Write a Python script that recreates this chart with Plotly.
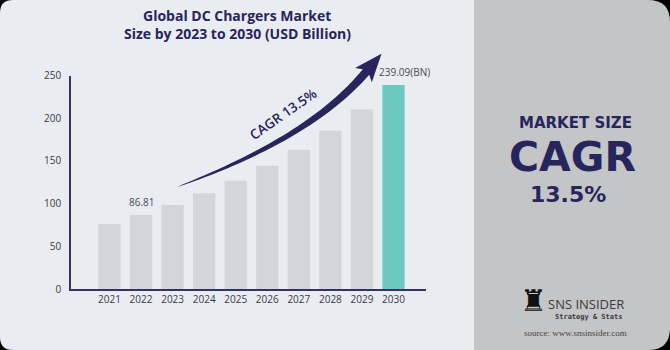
import numpy as np
import plotly.graph_objects as go

# ---- data ----
years = ["2021", "2022", "2023", "2024", "2025", "2026", "2027", "2028", "2029", "2030"]
market_size = [76.2, 86.81, 98.4, 112.1, 126.9, 144.5, 163.2, 185.5, 210.5, 239.09]
bar_colors = ["#D2D6DB"] * 9 + ["#6CC8C0"]
label_years = ["2022", "2030"]
label_texts = ["86.81", "239.09(BN)"]
y_ticks = [0, 50, 100, 150, 200, 250]

W, H = 670, 350
NAVY = "#27255C"


def px(x, y):
    return x / W, 1 - y / H


def path_from(points):
    pts = [px(x, y) for x, y in points]
    s = "M {:.5f},{:.5f} ".format(*pts[0])
    s += " ".join("L {:.5f},{:.5f}".format(a, b) for a, b in pts[1:])
    return s + " Z"


def rounded_rect(x0, y0, x1, y1, rl, rr):
    def P(x, y):
        a, b = px(x, y)
        return "{:.5f},{:.5f}".format(a, b)
    s = "M " + P(x0 + rl, y0)
    s += " L " + P(x1 - rr, y0)
    s += (" Q " + P(x1, y0) + " " + P(x1, y0 + rr)) if rr else (" L " + P(x1, y0))
    s += " L " + P(x1, y1 - rr)
    s += (" Q " + P(x1, y1) + " " + P(x1 - rr, y1)) if rr else (" L " + P(x1, y1))
    s += " L " + P(x0 + rl, y1)
    s += (" Q " + P(x0, y1) + " " + P(x0, y1 - rl)) if rl else (" L " + P(x0, y1))
    s += " L " + P(x0, y0 + rl)
    s += (" Q " + P(x0, y0) + " " + P(x0 + rl, y0)) if rl else (" L " + P(x0, y0))
    return s + " Z"


# ---- arrow (decoration) ----
P0 = np.array([177.0, 187.0]); P1 = np.array([250.0, 160.0])
P2 = np.array([322.0, 124.0]); P3 = np.array([366.0, 72.0])
ts = np.linspace(0, 1, 40)
upper, lower = [], []
for t in ts:
    c = (1 - t) ** 3 * P0 + 3 * (1 - t) ** 2 * t * P1 + 3 * (1 - t) * t ** 2 * P2 + t ** 3 * P3
    d = 3 * (1 - t) ** 2 * (P1 - P0) + 6 * (1 - t) * t * (P2 - P1) + 3 * t ** 2 * (P3 - P2)
    d = d / np.linalg.norm(d)
    n = np.array([-d[1], d[0]])
    w = 4.2 * t ** 0.7
    upper.append(c + n * w)
    lower.append(c - n * w)
dE = 3 * (P3 - P2); dE = dE / np.linalg.norm(dE)
nE = np.array([-dE[1], dE[0]])
tip = P3 + dE * 24
wing_a = P3 - dE * 4 + nE * 11
wing_b = P3 - dE * 4 - nE * 11
arrow_pts = upper + [wing_a, tip, wing_b] + lower[::-1]
arrow_path = path_from([(p[0], p[1]) for p in arrow_pts])

fig = go.Figure()
fig.add_trace(go.Bar(
    x=years, y=market_size, marker=dict(color=bar_colors, line=dict(width=0)),
    width=0.707, hoverinfo="skip",
))

shapes = [
    dict(type="path", xref="paper", yref="paper", layer="below",
         path=rounded_rect(0, 0, 480, 350, 13, 0), fillcolor="#E9ECF1", line=dict(width=0)),
    dict(type="path", xref="paper", yref="paper", layer="below",
         path=rounded_rect(474, 0, 670, 350, 0, 22), fillcolor="#C4C5C7", line=dict(width=0)),
    dict(type="path", xref="paper", yref="paper", layer="above",
         path=arrow_path, fillcolor=NAVY, line=dict(width=0)),
]

annotations = []
for yr, txt in zip(label_years, label_texts):
    idx = years.index(yr)
    v = market_size[idx]
    annotations.append(dict(x=idx, y=v, xref="x", yref="y", text=txt, showarrow=False,
                            yanchor="bottom", yshift=4, xshift=(11 if "BN" in txt else 1),
                            font=dict(family="Open Sans", size=10, color="#4A4A55")))


def ann(x, y, text, size, color=NAVY, family="Open Sans", weight=700, angle=0, xanchor="center"):
    a, b = px(x, y)
    annotations.append(dict(x=a, y=b, xref="paper", yref="paper", text=text, showarrow=False,
                            xanchor=xanchor, yanchor="middle", textangle=angle, borderpad=0,
                            font=dict(family=family, size=size, color=color, weight=weight)))


ann(237, 16, "Global DC Chargers Market", 14)
ann(237, 33, "Size by 2023 to 2030 (USD Billion)", 14)
ann(283, 114, "CAGR 13.5%", 13.5, weight=600, angle=-35)
ann(575, 123, "MARKET SIZE", 15, family="DejaVu Sans", weight=700)
ann(572, 157, "CAGR", 41, family="DejaVu Sans", weight=700)
ann(568, 194.5, "13.5%", 22, family="DejaVu Sans", weight=700)
ann(533, 300, "♜", 30, color="#111111", family="DejaVu Sans", weight=400)
ann(586, 304, "SNS INSIDER", 13, color="#3A3A3A", family="Open Sans", weight=500)
ann(588, 317, "Strategy & Stats", 7, color="#3A3A3A", family="DejaVu Sans Mono", weight=700)
ann(575, 333, "source: www.snsinsider.com", 9, color="#444444", family="Liberation Serif", weight=400)

fig.update_layout(
    width=W, height=H, margin=dict(l=0, r=0, t=0, b=0, autoexpand=False),
    paper_bgcolor="#000000", plot_bgcolor="rgba(0,0,0,0)",
    showlegend=False, shapes=shapes, annotations=annotations,
    xaxis=dict(domain=[71 / W, 426 / W], type="category", range=[-1.22, 10.03],
               showline=True, linecolor="#34335E", linewidth=1.5, ticks="",
               showgrid=False, zeroline=False, fixedrange=True, automargin=False,
               tickfont=dict(family="Open Sans", size=10, color="#3A3A48")),
    yaxis=dict(domain=[1 - 289 / H, 1 - 75.6 / H], range=[0, 250], tickvals=y_ticks,
               showline=True, linecolor="#34335E", linewidth=1.5, ticks="",
               showgrid=False, zeroline=False, fixedrange=True, ticklabelstandoff=6,
               automargin=False,
               tickfont=dict(family="Open Sans", size=10, color="#3A3A48")),
)

fig.write_html("out.html", config={"displayModeBar": False})
